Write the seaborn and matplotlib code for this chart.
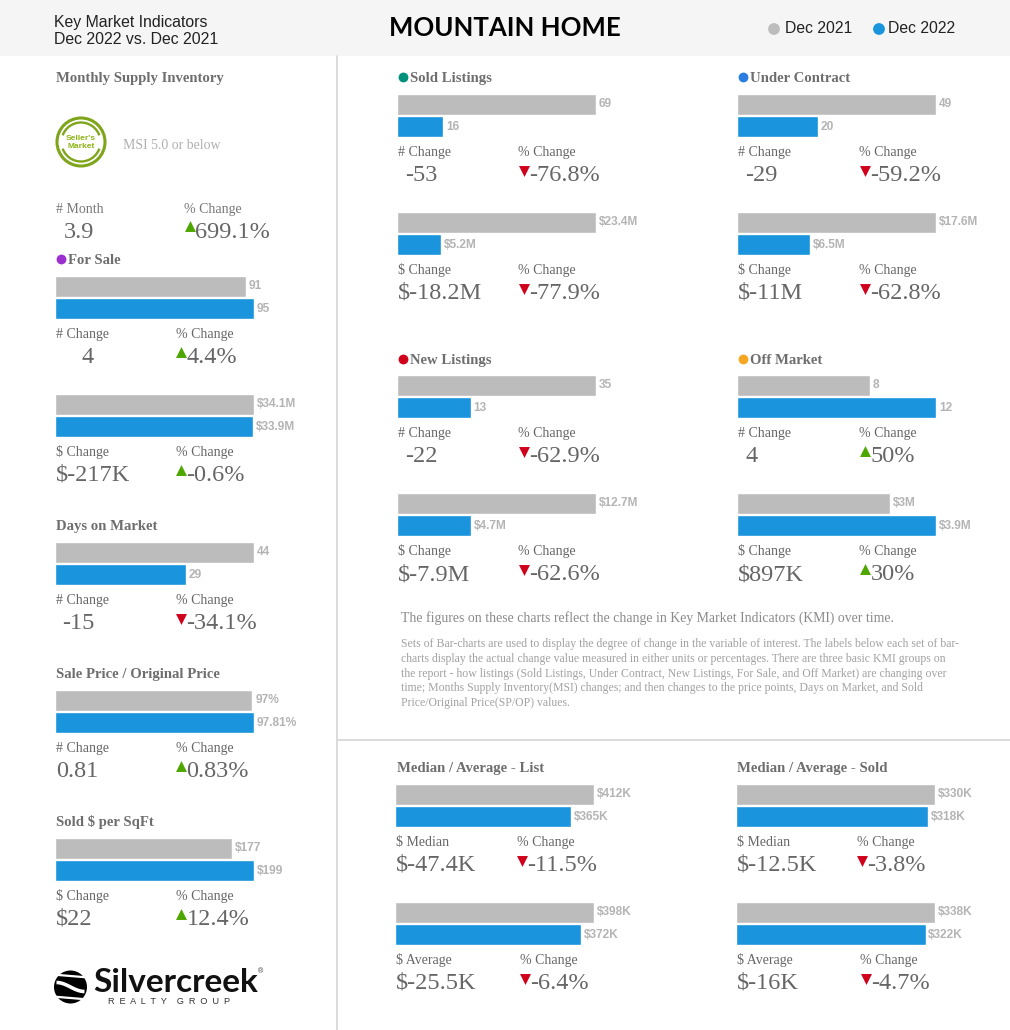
import numpy as np
import pandas as pd
import matplotlib
matplotlib.use("Agg")
import matplotlib.pyplot as plt
from matplotlib.patches import Arc, Circle, Rectangle
import seaborn as sns

sns.set_theme(style="white")

W, H = 1010, 1030
SERIF = "Liberation Serif"
SANS = "Liberation Sans"
GREY_BAR = "#bcbcbc"
BLUE_BAR = "#1a94dc"
UP = "#4ea600"
DOWN = "#d0021b"

periods = ["Dec 2021", "Dec 2022"]

for_sale_count = [91, 95]
for_sale_volume = [34.1, 33.9]
days_on_market = [44, 29]
sale_vs_original = [97, 97.81]
sold_per_sqft = [177, 199]
sold_count = [69, 16]
sold_volume = [23.4, 5.2]
contract_count = [49, 20]
contract_volume = [17.6, 6.5]
new_count = [35, 13]
new_volume = [12.7, 4.7]
off_count = [8, 12]
off_volume = [3, 3.9]
list_median = [412, 365]
list_average = [398, 372]
sold_median = [330, 318]
sold_average = [338, 322]

note_lines = [
    "Sets of Bar-charts are used to display the degree of change in the variable of interest. The labels below each set of bar-",
    "charts display the actual change value measured in either units or percentages. There are three basic KMI groups on",
    "the report - how listings (Sold Listings, Under Contract, New Listings, For Sale, and Off Market) are changing over",
    "time; Months Supply Inventory(MSI) changes; and then changes to the price points, Days on Market, and Sold",
    "Price/Original Price(SP/OP) values.",
]

# values, label format, bar x, bar y, caption, caption x, change, change x, % x, % text, up?
blocks = [
    (for_sale_count, "{:g}", 56, 277, "# Change", 176, "4", 82, 181, "4.4%", True),
    (for_sale_volume, "${:g}M", 56, 395, "$ Change", 176, "$-217K", 56, 181, "-0.6%", True),
    (days_on_market, "{:g}", 56, 543, "# Change", 176, "-15", 62, 181, "-34.1%", False),
    (sale_vs_original, "{:g}%", 56, 691, "# Change", 176, "0.81", 56, 181, "0.83%", True),
    (sold_per_sqft, "${:g}", 56, 839, "$ Change", 176, "$22", 56, 181, "12.4%", True),
    (sold_count, "{:g}", 398, 95, "# Change", 518, "-53", 405, 524, "-76.8%", False),
    (sold_volume, "${:g}M", 398, 213, "$ Change", 518, "$-18.2M", 398, 524, "-77.9%", False),
    (contract_count, "{:g}", 738, 95, "# Change", 859, "-29", 745, 865, "-59.2%", False),
    (contract_volume, "${:g}M", 738, 213, "$ Change", 859, "$-11M", 738, 865, "-62.8%", False),
    (new_count, "{:g}", 398, 376, "# Change", 518, "-22", 405, 524, "-62.9%", False),
    (new_volume, "${:g}M", 398, 494, "$ Change", 518, "$-7.9M", 398, 524, "-62.6%", False),
    (off_count, "{:g}", 738, 376, "# Change", 859, "4", 745, 865, "50%", True),
    (off_volume, "${:g}M", 738, 494, "$ Change", 859, "$897K", 738, 865, "30%", True),
    (list_median, "${:g}K", 396, 785, "$ Median", 517, "$-47.4K", 396, 522, "-11.5%", False),
    (list_average, "${:g}K", 396, 903, "$ Average", 520, "$-25.5K", 396, 525, "-6.4%", False),
    (sold_median, "${:g}K", 737, 785, "$ Median", 857, "$-12.5K", 737, 862, "-3.8%", False),
    (sold_average, "${:g}K", 737, 903, "$ Average", 860, "$-16K", 737, 866, "-4.7%", False),
]

# title, x, baseline y, dot colour
titles = [
    ("Monthly Supply Inventory", 56, 82, None),
    ("For Sale", 56, 264, "#9b30d0"),
    ("Days on Market", 56, 530, None),
    ("Sale Price / Original Price", 56, 678, None),
    ("Sold $ per SqFt", 56, 826, None),
    ("Sold Listings", 398, 82, "#00917c"),
    ("Under Contract", 738, 82, "#2b7de1"),
    ("New Listings", 398, 364, "#d0021b"),
    ("Off Market", 738, 364, "#f5a623"),
    ("Median / Average - List", 397, 772, None),
    ("Median / Average - Sold", 737, 772, None),
]

fig = plt.figure(figsize=(W / 100, H / 100), dpi=100, facecolor="white")

# pixel canvas for everything that is not a bar
page = fig.add_axes([0, 0, 1, 1], zorder=5)
page.set_xlim(0, W)
page.set_ylim(H, 0)
page.axis("off")
page.patch.set_alpha(0)


def bars(values, fmt, x, y, width=199, height=45):
    ax = fig.add_axes([(x - 1) / W, 1 - (y - 1.8 + height) / H, width / W, height / H])
    df = pd.DataFrame({"period": periods, "value": values})
    sns.barplot(data=df, x="value", y="period", hue="period", order=periods,
                palette=[GREY_BAR, BLUE_BAR], width=0.93, legend=False, ax=ax, saturation=1)
    ax.set_xlim(0, max(values))
    ax.set_ylim(1.5, -0.5)
    for cont, v in zip(ax.containers, values):
        ax.bar_label(cont, labels=[fmt.format(v)], padding=2, color="#b4b4b4",
                     fontsize=8.6, fontweight="bold", family=SANS)
    ax.axis("off")


def triangle(x, y, up):
    page.scatter([x], [y], marker="^" if up else "v", s=62, color=UP if up else DOWN,
                 linewidths=0, zorder=6)


# header and rules
page.add_patch(Rectangle((0, 0), W, 56, color="#f5f5f5", lw=0))
page.plot([336.5, 336.5], [56, H], color="#d9d9d9", lw=1.3)
page.plot([337, W], [739.5, 739.5], color="#d9d9d9", lw=1.3)

page.text(54, 22.5, "Key Market Indicators", family=SANS, fontsize=11.4, color="#222222", va="center")
page.text(54, 40, "Dec 2022 vs. Dec 2021", family=SANS, fontsize=11.4, color="#222222", va="center")
page.text(505, 28, "MOUNTAIN HOME", family="Lato", fontsize=18.5, fontweight="bold", color="black",
          ha="center", va="center")
page.scatter([774, 879], [29, 29], s=72, color=[GREY_BAR, BLUE_BAR], linewidths=0)
page.text(785, 28.5, periods[0], family=SANS, fontsize=11.3, color="#222222", va="center")
page.text(888, 28.5, periods[1], family=SANS, fontsize=11.3, color="#222222", va="center")

for name, x, y, dot in titles:
    if dot:
        page.scatter([x + 5], [y - 5], s=50, color=dot, linewidths=0)
        x += 12.5
    page.text(x, y, name, family=SERIF, fontsize=10.6, fontweight="bold", color="#6e6e6e")

for values, fmt, x, y, caption, cap_x, change, change_x, tri_x, pct, up in blocks:
    bars(values, fmt, x, y)
    page.text(x, y + 61, caption, family=SERIF, fontsize=10, color="#666666")
    page.text(cap_x, y + 61, "% Change", family=SERIF, fontsize=10, color="#666666")
    page.text(change_x, y + 86, change, family=SERIF, fontsize=17.5, color="#666666")
    triangle(tri_x, y + 75 if up else y + 75.5, up)
    page.text(tri_x + 5.5, y + 86, pct, family=SERIF, fontsize=17.5, color="#666666")

# monthly supply block
page.add_patch(Circle((81, 142), 24, fill=False, ec="#7fa51a", lw=2.2))
page.add_patch(Arc((81, 142), 39, 39, theta1=200, theta2=340, ec="#7fa51a", lw=1.7))
page.add_patch(Arc((81, 142), 39, 39, theta1=20, theta2=160, ec="#7fa51a", lw=1.7))
page.text(81, 139, "Seller's", family=SANS, fontsize=6, fontweight="bold", color="#8cb414", ha="center", va="center")
page.text(81, 146.5, "Market", family=SANS, fontsize=6, fontweight="bold", color="#8cb414", ha="center", va="center")
page.text(123, 149, "MSI 5.0 or below", family=SERIF, fontsize=10, color="#b0b0b0")
page.text(56, 213, "# Month", family=SERIF, fontsize=10, color="#777777")
page.text(184, 213, "% Change", family=SERIF, fontsize=10, color="#777777")
page.text(64, 238, "3.9", family=SERIF, fontsize=17.5, color="#666666")
triangle(190, 226, True)
page.text(195, 238, "699.1%", family=SERIF, fontsize=17.5, color="#666666")

# explanation
page.text(401, 618, "The figures on these charts reflect the change in Key Market Indicators (KMI) over time.",
          family=SERIF, fontsize=9.9, color="#8a8a8a", va="center")
for line, y in zip(note_lines, [644, 659, 674, 688, 703]):
    page.text(401, y, line, family=SERIF, fontsize=8.5, color="#a2a2a2", va="center")

# company mark
page.add_patch(Circle((70.5, 987), 16.5, color="black", lw=0))
t = np.linspace(-1, 1, 40)
page.plot(70.5 + 18 * t, 976 + 1.5 * t, color="white", lw=1.6, solid_capstyle="butt")
page.plot(70.5 + 18 * t, 998 + 1.5 * t, color="white", lw=1.6, solid_capstyle="butt")
page.plot(70.5 + 14 * t, 987 + 4.5 * np.sin(t * np.pi / 2), color="white", lw=2.6, solid_capstyle="butt")
page.text(93, 983, "Silvercreek", family="Lato", fontsize=24, fontweight="bold", color="#111111", va="center")
page.text(261, 972, "®", family=SANS, fontsize=5, color="#333333", ha="center", va="center")
page.text(169.5, 1001.5, "R  E  A  L  T  Y    G  R  O  U  P", family=SANS, fontsize=6.6, color="#333333",
          ha="center", va="center")

fig.savefig("out.png", dpi=100, facecolor="white")
